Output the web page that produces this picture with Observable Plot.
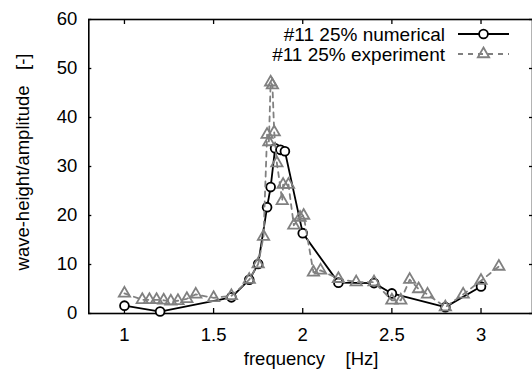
<!DOCTYPE html>
<html>
<head>
<meta charset="utf-8">
<script src="https://cdn.jsdelivr.net/npm/d3@7"></script>
<script src="https://cdn.jsdelivr.net/npm/@observablehq/plot@0.6"></script>
<style>
  html, body { margin: 0; padding: 0; background: #fff; }
  svg { display: block; }
</style>
</head>
<body>
<div id="chart"></div>
<script>
// Numerical series (#11 25% numerical)
const numFreq = [1.0, 1.2, 1.6, 1.7, 1.75, 1.80, 1.82, 1.845, 1.875, 1.9, 2.0, 2.2, 2.4, 2.5, 2.8, 3.0];
const numAmp  = [1.6, 0.4, 3.3, 6.9, 10.1, 21.7, 25.8, 33.7, 33.4, 33.1, 16.4, 6.3, 6.2, 4.1, 1.3, 5.5];

// Experimental series (#11 25% experiment)
const expFreq = [1.0, 1.1, 1.14, 1.18, 1.22, 1.26, 1.3, 1.35, 1.4, 1.5, 1.6, 1.7, 1.75, 1.78,
                 1.80, 1.81, 1.82, 1.83, 1.84, 1.855, 1.885, 1.89, 1.92, 1.95, 1.985, 2.005,
                 2.06, 2.1, 2.2, 2.3, 2.4, 2.5, 2.55, 2.6, 2.65, 2.7, 2.8, 2.9, 3.0, 3.1];
const expAmp  = [4.1, 2.8, 2.8, 2.8, 2.7, 2.5, 2.6, 3.0, 3.9, 3.2, 3.6, 6.9, 10.1, 15.7,
                 36.5, 35.0, 47.2, 46.6, 37.0, 30.7, 23.0, 26.3, 26.3, 18.0, 19.6, 20.0,
                 8.4, 8.8, 7.1, 6.4, 6.4, 2.7, 2.7, 6.9, 5.0, 3.9, 1.3, 3.9, 6.7, 9.6];

const xTicks = [1, 1.5, 2, 2.5, 3];
const yTicks = [0, 10, 20, 30, 40, 50, 60];
const seriesNames = ["#11 25% numerical", "#11 25% experiment"];
const xLabel = "frequency\u00a0\u00a0\u00a0\u00a0[Hz]";
const yLabel = "wave-height/amplitude\u00a0\u00a0\u00a0[-]";

const numData = numFreq.map((f, i) => ({f, a: numAmp[i]}));
const expData = expFreq.map((f, i) => ({f, a: expAmp[i]}));

const W = 532, H = 378;
const mL = 88.3, mT = 19, mB = 65;
const fh = H - mT - mB; // frame height
const tl = 5; // tick length
const gray = "#808080";
const font = "'Liberation Sans', Arial, Helvetica, sans-serif";

const svg = Plot.plot({
  width: W,
  height: H,
  marginLeft: mL,
  marginTop: mT,
  marginBottom: mB,
  marginRight: 0,
  style: {fontFamily: font, fontSize: "18.5px", background: "#fff", color: "#000", overflow: "visible"},
  x: {domain: [0.8, 3.3], range: [mL, 534]},
  y: {domain: [0, 60], range: [H - mB, mT]},
  marks: [
    // tick labels
    Plot.axisX({ticks: xTicks, tickSize: 0, tickPadding: 14, label: null, tickFormat: d => String(d), fontSize: 18.5}),
    Plot.axisY({ticks: yTicks, tickSize: 0, tickPadding: 11.5, label: null, tickFormat: d => String(d), fontSize: 18.5}),
    // inward ticks on all sides
    Plot.tickX(xTicks, {x: d => d, insetTop: fh - tl, stroke: "#000", strokeWidth: 1.3}),
    Plot.tickX(xTicks, {x: d => d, insetBottom: fh - tl, stroke: "#000", strokeWidth: 1.3}),
    Plot.tickY(yTicks, {y: d => d, insetRight: (534 - mL) - tl, stroke: "#000", strokeWidth: 1.3}),
    Plot.tickY(yTicks, {y: d => d, insetLeft: (534 - mL) - tl, stroke: "#000", strokeWidth: 1.3}),
    Plot.frame({stroke: "#000", strokeWidth: 1.6}),
    // numerical
    Plot.line(numData, {x: "f", y: "a", stroke: "#000", strokeWidth: 1.8}),
    Plot.dot(numData, {x: "f", y: "a", r: 4.4, fill: "#fff", stroke: "#000", strokeWidth: 1.8}),
    // experiment
    Plot.line(expData, {x: "f", y: "a", stroke: gray, strokeWidth: 1.8, strokeDasharray: "5,5"}),
    Plot.dot(expData, {x: "f", y: "a", symbol: "triangle", r: 4.2, fill: "none", stroke: gray, strokeWidth: 1.8})
  ]
});

const s = d3.select(svg);
// axis labels
s.append("text")
  .attr("transform", `translate(29,${(mT + H - mB) / 2 - 4}) rotate(-90)`)
  .attr("text-anchor", "middle")
  .attr("font-size", "18.5px")
  .attr("fill", "#000")
  .text(yLabel);
s.append("text")
  .attr("x", (mL + 534) / 2)
  .attr("y", 365)
  .attr("text-anchor", "middle")
  .attr("font-size", "18.5px")
  .attr("fill", "#000")
  .text(xLabel);

// legend
const lg = s.append("g").attr("font-size", "19px").attr("fill", "#000");
const rows = [
  {name: seriesNames[0], y: 34, stroke: "#000", dash: null, sym: d3.symbolCircle, fill: "#fff", r: 4.4},
  {name: seriesNames[1], y: 54, stroke: gray, dash: "5,5", sym: d3.symbolTriangle, fill: "none", r: 4.2}
];
rows.forEach(row => {
  lg.append("text").attr("x", 445).attr("y", row.y + 6.7).attr("text-anchor", "end").text(row.name);
  lg.append("line").attr("x1", 458).attr("x2", 509).attr("y1", row.y).attr("y2", row.y)
    .attr("stroke", row.stroke).attr("stroke-width", 1.8).attr("stroke-dasharray", row.dash);
  lg.append("path").attr("transform", `translate(483.5,${row.y})`)
    .attr("d", d3.symbol().type(row.sym).size(Math.PI * row.r * row.r)())
    .attr("fill", row.fill).attr("stroke", row.stroke).attr("stroke-width", 1.8);
});

document.getElementById("chart").appendChild(svg);
</script>
</body>
</html>
